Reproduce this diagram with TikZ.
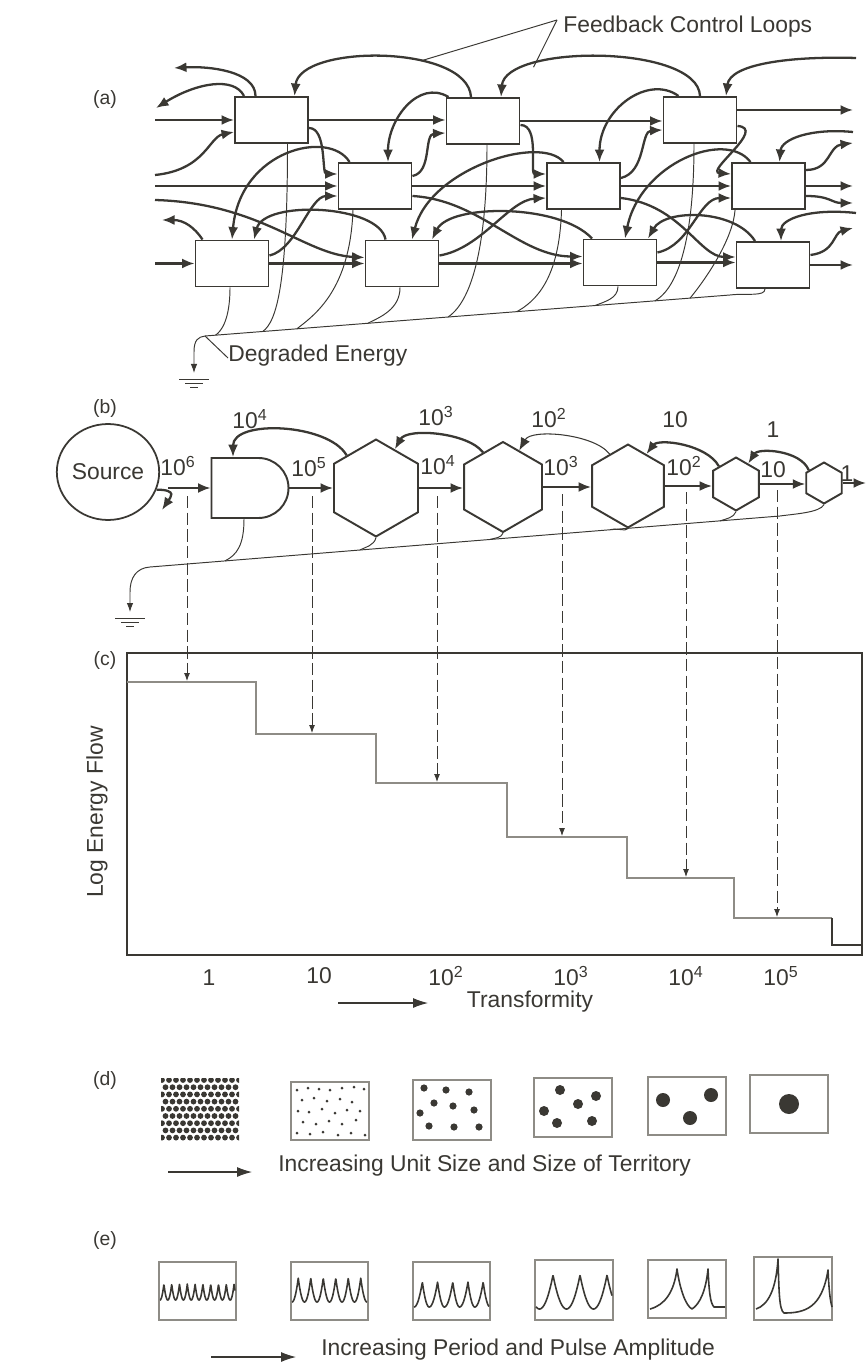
\documentclass[tikz,border=0pt]{standalone}
\usepackage{fontspec}
\setmainfont{Liberation Sans}
\usetikzlibrary{arrows.meta,calc,shapes.geometric,shapes.misc}
\definecolor{ink}{HTML}{3A3833}
\definecolor{faint}{HTML}{8E8C86}
\newcommand{\tpow}[1]{10\textsuperscript{#1}}
% pulse train: x0, x1, base, amplitude, period, offset, rise fraction, rise power
\newcommand{\spikes}[8]{%
  \draw[pulseline] plot[domain=#1:#2,samples=240]
    (\x,{#3-#4*ifthenelse(mod(\x-#1+#6,#5)<#5*#7,
      (mod(\x-#1+#6,#5)/(#5*#7))^#8,
      ((#5-mod(\x-#1+#6,#5))/(#5-#5*#7))^2)});}
\tikzset{
  unitbox/.style={draw=ink,line width=1.1pt,minimum width=1.46cm,minimum height=0.92cm,inner sep=0pt},
  hexunit/.style={draw=ink,line width=1.1pt,regular polygon,regular polygon sides=6,
    shape border rotate=30,inner sep=0pt},
  flow/.style={ink,line width=1.3pt,-{Latex[length=2.5mm,width=2mm]}},
  loss/.style={ink,line width=0.55pt},
  sinkarrow/.style={loss,-{Latex[length=1.8mm,width=1.3mm]}},
  dropline/.style={ink,line width=0.5pt,dash pattern=on 7pt off 2.5pt,-{Latex[length=1.6mm,width=1.2mm]}},
  hint/.style={ink,line width=0.6pt,-{Latex[length=3mm,width=2mm]}},
  plotframe/.style={draw=ink,line width=1pt},
  stepline/.style={faint,line width=0.6pt},
  cell/.style={draw=faint,line width=0.6pt},
  pulseline/.style={ink,line width=0.9pt,line join=round},
  lbl/.style={text=ink,inner sep=0pt},
  parttag/.style={text=ink,font=\fontsize{11}{13}\selectfont},
  earth/.pic={\draw[loss] (-15,0) -- (15,0) (-9,4) -- (9,4) (-4,8) -- (4,8);}
}

\begin{document}
\begin{tikzpicture}[x=0.02cm,y=-0.02cm,font=\fontsize{13}{15}\selectfont]

  \fill[white] (0,0) rectangle (867,1364);
  \useasboundingbox (0,0) rectangle (867,1364);

  % --- part tags ---
  \node[parttag] (pa) at (105,100) {(a)};
  \node[parttag] (pb) at (105,408) {(b)};
  \node[parttag] (pc) at (105,660) {(c)};
  \node[parttag] (pd) at (105,1080) {(d)};
  \node[parttag] (pe) at (105,1240) {(e)};

  % ================= (a) network =================
  \node[unitbox] (a1) at (271.5,120) {};
  \node[unitbox] (a2) at (483,121) {};
  \node[unitbox] (a3) at (700,120) {};
  \node[unitbox] (b1) at (375,186) {};
  \node[unitbox] (b2) at (583.5,186) {};
  \node[unitbox] (b3) at (768.5,186) {};
  \node[unitbox] (c1) at (232,263.5) {};
  \node[unitbox] (c2) at (402,263.5) {};
  \node[unitbox] (c3) at (620,262.5) {};
  \node[unitbox] (c4) at (773,265) {};

  \coordinate (ina)   at (155,120);
  \coordinate (ina2)  at (155,175);
  \coordinate (outa1) at (174,68);
  \coordinate (outa2) at (156,108);
  \coordinate (ina3)  at (856,58);
  \coordinate (outa)  at (853,110);
  \coordinate (inb)   at (155,186);
  \coordinate (inb2)  at (155,200);
  \coordinate (inb3)  at (853,132);
  \coordinate (outb1) at (853,143);
  \coordinate (outb)  at (853,186);
  \coordinate (outb3) at (853,203);
  \coordinate (inc)   at (155,263.5);
  \coordinate (outc1) at (162,220);
  \coordinate (inc4)  at (856,213);
  \coordinate (outc2) at (853,228);
  \coordinate (outc)  at (853,265);

  % --- straight flows ---
  \draw[flow] (ina) -- (a1.west);
  \draw[flow] (a1.east) -- (a1.east -| a2.west);
  \draw[flow] (a2.east) -- (a2.east -| a3.west);
  \draw[flow] ($(a3.east)+(0,-10)$) -- (outa);
  \draw[flow] (inb) -- (b1.west);
  \draw[flow] (b1.east) -- (b2.west);
  \draw[flow] (b2.east) -- (b3.west);
  \draw[flow] (b3.east) -- (outb);
  \draw[flow] (inc) -- (c1.west);
  \draw[flow] (c1.east) -- (c2.west);
  \draw[flow] (c2.east) -- (c2.east -| c3.west);
  \draw[flow] (c3.east) -- (c3.east -| c4.west);
  \draw[flow] (c4.east) -- (outc);

  % --- top row curves ---
  \draw[flow] (ina2) .. controls +(50,-5) and +(-25,5) .. ($(a1.west)+(0,12)$);
  \draw[flow] ($(a1.north)+(-16,0)$) .. controls +(0,-25) and +(35,-2) .. (outa1);
  \draw[flow] ($(a1.north west)+(10,0)$) .. controls +(-10,-20) and +(40,-25) .. (outa2);
  \draw[flow] ($(a1.east)+(0,8)$) .. controls +(18,0) and +(-16,0) .. ($(b1.west)+(0,-12)$);
  \draw[flow] ($(a2.north)+(-12,0)$) .. controls +(-3,-53) and +(5,-52) .. ($(a1.north)+(23,0)$)
    coordinate[pos=0.35] (fb1);
  \draw[flow] (a3.north) .. controls +(-2,-52) and +(4,-53) .. ($(a2.north)+(18,0)$)
    coordinate[pos=0.75] (fb2);
  \draw[flow] (ina3) .. controls +(-66,-2) and +(4,-32) .. ($(a3.north)+(26,0)$);
  \draw[flow] ($(a2.north west)+(3,0)$) .. controls +(-30,-18) and +(0,-43) .. ($(b1.north)+(13,0)$);
  \draw[flow] ($(b1.east)+(0,-10)$) .. controls +(20,-4) and +(-22,1) .. ($(a2.west)+(0,12)$);
  \draw[flow] ($(a2.east)+(0,4)$) .. controls +(20,0) and +(-17,0) .. ($(b2.west)+(0,-12)$);
  \draw[flow] ($(a3.north west)+(16,0)$) .. controls +(-30,-22) and +(0,-53) .. ($(b2.north)+(16,0)$);
  \draw[flow] ($(b2.east)+(0,-8)$) .. controls +(25,-6) and +(-22,1) .. ($(a3.west)+(0,10)$);
  \draw[flow] ($(a3.east)+(0,6)$) .. controls +(30,2) and +(-27,-2) .. ($(b3.west)+(0,-12)$);
  \draw[flow] (inb3) .. controls +(-42,-4) and +(2,-23) .. ($(b3.north)+(11,0)$);
  \draw[flow] ($(b3.east)+(0,-16)$) .. controls +(25,0) and +(-25,3) .. (outb1);
  \draw[flow] ($(b3.east)+(0,10)$) .. controls +(25,0) and +(-22,0) .. (outb3);

  % --- middle and bottom row curves ---
  \draw[flow] (inb2) .. controls +(105,3) and +(-60,-3) .. ($(c2.west)+(0,-6)$);
  \draw[flow] ($(c1.east)+(0,-8)$) .. controls +(27,-6) and +(-28,0) .. ($(b1.west)+(0,10)$);
  \draw[flow] ($(b1.north west)+(12,0)$) .. controls +(-20,-33) and +(8,-90) .. (c1.north);
  \draw[flow] ($(c2.north west)+(21,0)$) .. controls +(-6,-35) and +(10,-40) .. ($(c1.north)+(22,0)$);
  \draw[flow] ($(b1.east)+(0,10)$) .. controls +(68,4) and +(-63,0) .. ($(c3.west)+(0,-6)$);
  \draw[flow] ($(c2.east)+(0,-8)$) .. controls +(42,-7) and +(-37,2) .. ($(b2.west)+(0,12)$);
  \draw[flow] ($(b2.north)+(-20,0)$) .. controls +(-23,-28) and +(18,-71) .. ($(c2.north)+(10,0)$);
  \draw[flow] ($(c3.north)+(-28,0)$) .. controls +(-32,-35) and +(18,-36) .. ($(c2.north)+(30,0)$);
  \draw[flow] ($(b2.east)+(0,12)$) .. controls +(60,7) and +(-36,0) .. ($(c4.west)+(0,-8)$);
  \draw[flow] ($(c3.east)+(0,-10)$) .. controls +(33,-7) and +(-32,0) .. ($(b3.west)+(0,12)$);
  \draw[flow] ($(b3.north)+(-18,0)$) .. controls +(-25,-33) and +(15,-75) .. ($(c3.north)+(5,0)$);
  \draw[flow] ($(c4.north)+(-18,0)$) .. controls +(-20,-32) and +(17,-30) .. ($(c3.north)+(28,0)$);
  \draw[flow] ($(c1.north west)+(8,0)$) .. controls +(-8,-12) and +(22,0) .. (outc1);
  \draw[flow] ($(c4.east)+(0,-10)$) .. controls +(25,-3) and +(-20,5) .. (outc2);
  \draw[flow] (inc4) .. controls +(-46,-5) and +(0,-22) .. ($(c4.north)+(8,0)$);

  % --- degraded energy ---
  \coordinate (dgE)  at (730,295);
  \coordinate (dgW)  at (205,336);
  \coordinate (dgK)  at (194,352);
  \coordinate (gnda) at (194,373);
  \draw[sinkarrow] ($(c4.south)+(-8,0)$) .. controls +(0,8) and +(16,-2) .. (dgE) -- (dgW)
    .. controls +(-7,1) and +(0,-12) .. (dgK) -- (gnda);
  \pic at (194,379) {earth};
  \draw[loss] ($(c1.south)+(-2,0)$) .. controls +(0,32) and +(6,-4) .. ($(dgW)!0.02!(dgE)$);
  \draw[loss] ($(a1.south)+(16,0)$) .. controls +(0,140) and +(14,-10) .. ($(dgW)!0.11!(dgE)$);
  \draw[loss] ($(b1.south)+(-22,0)$) .. controls +(-3,80) and +(18,-14) .. ($(dgW)!0.175!(dgE)$);
  \draw[loss] ($(c2.south)+(-2,0)$) .. controls +(0,22) and +(12,-6) .. ($(dgW)!0.31!(dgE)$);
  \draw[loss] ($(a2.south)+(4,0)$) .. controls +(0,120) and +(18,-12) .. ($(dgW)!0.463!(dgE)$);
  \draw[loss] ($(b2.south)+(-22,0)$) .. controls +(-2,70) and +(18,-10) .. ($(dgW)!0.594!(dgE)$);
  \draw[loss] ($(c3.south)+(-2,0)$) .. controls +(0,12) and +(10,-4) .. ($(dgW)!0.743!(dgE)$);
  \draw[loss] ($(a3.south)+(-6,0)$) .. controls +(0,110) and +(18,-10) .. ($(dgW)!0.857!(dgE)$);
  \draw[loss] ($(b3.south west)+(4,0)$) .. controls +(-2,28) and +(18,-22) .. ($(dgW)!0.924!(dgE)$);

  % --- (a) labels ---
  \node[lbl,anchor=west] (fcl) at (563,27) {Feedback Control Loops};
  \draw[loss] ($(fcl.west)+(-6,-7)$) -- (fb1);
  \draw[loss] ($(fcl.west)+(-6,-7)$) -- (fb2);
  \node[lbl,anchor=west] (dgl) at (228,356) {Degraded Energy};
  \draw[loss] (dgW) -- ($(dgl.west)+(0,2)$);

  % ================= (b) chain =================
  \node[lbl,draw=ink,line width=1pt,ellipse,minimum width=1.76cm,minimum height=1.92cm]
    (src) at (108,472) {Source};
  \node[draw=ink,line width=1.1pt,rounded rectangle,rounded rectangle west arc=none,
    minimum width=1.54cm,minimum height=1.2cm,inner sep=0pt] (tank) at (250,488) {};
  \node[hexunit,minimum size=1.94cm] (h1) at (376,488) {};
  \node[hexunit,minimum size=1.80cm] (h2) at (503,487) {};
  \node[hexunit,minimum size=1.66cm] (h3) at (628,486) {};
  \node[hexunit,minimum size=1.06cm] (h4) at (736,484) {};
  \node[hexunit,minimum size=0.82cm] (h5) at (824,483) {};

  \coordinate (s6)   at (168,488);
  \coordinate (curl) at (162,510);
  \coordinate (outr) at (866,483);

  \draw[flow] (src.-20) .. controls +(22,0) and +(8,-12) .. (curl);
  \draw[flow] (s6) -- (tank.west);
  \draw[flow] (tank.east) -- (tank.east -| h1.180);
  \draw[flow] (h1.0) -- (h1.0 -| h2.180);
  \draw[flow] (h2.0) -- (h2.0 -| h3.180);
  \draw[flow] (h3.0) -- (h3.0 -| h4.180);
  \draw[flow] (h4.0) -- (h4.0 -| h5.180);
  \draw[flow] (h5.0) -- (outr);

  % --- feedbacks ---
  \draw[flow] (h1.132) .. controls +(-18,-32) and +(0,-38) .. ($(tank.north)+(-17,0)$);
  \draw[flow] (h2.120) .. controls +(-15,-20) and +(12,-22) .. (h1.64);
  \draw[flow,line width=0.6pt] (h3.120) .. controls +(-15,-20) and +(12,-22) .. (h2.66);
  \draw[flow] (h4.134) .. controls +(-12,-22) and +(12,-16) .. (h3.60);
  \draw[flow] (h5.140) .. controls +(-8,-20) and +(10,-16) .. (h4.59);

  % --- flow values ---
  \node[lbl] (q6)  at (178,466) {\tpow{6}};
  \node[lbl] (r4)  at (250,419) {\tpow{4}};
  \node[lbl] (q5)  at (309,467) {\tpow{5}};
  \node[lbl] (r3)  at (436,416) {\tpow{3}};
  \node[lbl] (q4)  at (438,465) {\tpow{4}};
  \node[lbl] (r2)  at (549,418) {\tpow{2}};
  \node[lbl] (q3)  at (561,466) {\tpow{3}};
  \node[lbl] (r1)  at (675,420) {10};
  \node[lbl] (q2)  at (684,466) {\tpow{2}};
  \node[lbl] (r0)  at (773,430) {1};
  \node[lbl] (q1)  at (773,470) {10};
  \node[lbl] (q0)  at (847,474) {1};

  % --- (b) degraded energy ---
  \coordinate (cE)   at (780,516);
  \coordinate (cW)   at (150,567);
  \coordinate (cK)   at (130,592);
  \coordinate (gndb) at (130,612);
  \draw[sinkarrow] (h5.south) .. controls +(-4,8) and +(14,-2) .. (cE) -- (cW)
    .. controls +(-14,1) and +(0,-14) .. (cK) -- (gndb);
  \pic at (130,618) {earth};
  \draw[loss] ($(tank.south)+(-6,0)$) .. controls +(0,26) and +(12,-6) .. ($(cW)!0.119!(cE)$);
  \draw[loss] (h1.south) .. controls +(-2,8) and +(6,-3) .. ($(cW)!0.333!(cE)$);
  \draw[loss] (h2.south) .. controls +(-2,5) and +(6,-2) .. ($(cW)!0.54!(cE)$);
  \draw[loss] (h3.south) .. controls +(-2,3) and +(6,-2) .. ($(cW)!0.73!(cE)$);
  \draw[loss] (h4.south) .. controls +(-2,6) and +(6,-2) .. ($(cW)!0.905!(cE)$);

  % ================= (c) step plot =================
  \draw[plotframe] (127,653) rectangle (862,955);
  \draw[stepline] (127,682) -- (256,682) -- (256,734) -- (376,734) -- (376,783) -- (507,783)
    -- (507,837) -- (627,837) -- (627,878) -- (734,878) -- (734,918) -- (832,918);
  \draw[ink,line width=0.8pt] (832,918) -- (832,945) -- (862,945);

  \coordinate (v1) at (187,496);  \coordinate (l1) at (187,681);
  \coordinate (v2) at (312,496);  \coordinate (l2) at (312,733);
  \coordinate (v3) at (437,496);  \coordinate (l3) at (437,782);
  \coordinate (v4) at (562,494);  \coordinate (l4) at (562,836);
  \coordinate (v5) at (686,492);  \coordinate (l5) at (686,877);
  \coordinate (v6) at (777,490);  \coordinate (l6) at (777,917);
  \draw[dropline] (v1) -- (l1);
  \draw[dropline] (v2) -- (l2);
  \draw[dropline] (v3) -- (l3);
  \draw[dropline] (v4) -- (l4);
  \draw[dropline] (v5) -- (l5);
  \draw[dropline] (v6) -- (l6);

  \node[lbl] (t0) at (209,978) {1};
  \node[lbl] (t1) at (319,976) {10};
  \node[lbl] (t2) at (446,976) {\tpow{2}};
  \node[lbl] (t3) at (571,976) {\tpow{3}};
  \node[lbl] (t4) at (686,976) {\tpow{4}};
  \node[lbl] (t5) at (781,976) {\tpow{5}};
  \node[lbl,rotate=90] (ylab) at (97,812) {Log Energy Flow};
  \node[lbl] (xlab) at (530,1002) {Transformity};
  \coordinate (xa0) at (338,1003);
  \coordinate (xa1) at (428,1003);
  \draw[hint] (xa0) -- (xa1);

  % ================= (d) territories =================
  \begin{scope}
    \clip (161,1078) rectangle (239,1140);
    \foreach \j in {0,...,8}
      \foreach \i in {0,...,11}
        \fill[ink] ({162+7*\i+3.5*mod(\j,2)},{1080+7.2*\j}) circle[radius=2.9];
  \end{scope}
  \draw[cell] (291,1082) rectangle (369,1140);
  \draw[cell] (413,1080) rectangle (491,1140);
  \draw[cell] (534,1078) rectangle (612,1137);
  \draw[cell] (648,1077) rectangle (726,1135);
  \draw[cell] (750,1075) rectangle (828,1133);
  \foreach \x/\y in {297/1090,308/1088,319/1089,330/1090,342/1088,354/1087,364/1089,
      302/1100,314/1098,327/1101,340/1099,352/1102,
      298/1111,309/1112,322/1109,335/1113,347/1110,360/1111,
      303/1122,316/1124,329/1121,342/1124,356/1120,
      297/1133,310/1134,323/1132,338/1135,351/1133,365/1135}
    \fill[ink] (\x,\y) circle[radius=1.5];
  \foreach \x/\y in {424/1088,446/1090,469/1092,434/1103,453/1106,420/1113,474/1110,
      429/1126,454/1127,479/1127}
    \fill[ink] (\x,\y) circle[radius=3.6];
  \foreach \x/\y in {560/1090,596/1096,578/1104,544/1111,557/1123,592/1121}
    \fill[ink] (\x,\y) circle[radius=5];
  \foreach \x/\y in {663/1100,711/1095,690/1118}
    \fill[ink] (\x,\y) circle[radius=7];
  \fill[ink] (789,1104) circle[radius=10];

  \coordinate (da0) at (168,1172);
  \coordinate (da1) at (252,1172);
  \draw[hint] (da0) -- (da1);
  \node[lbl,anchor=west] (dtxt) at (278,1166) {Increasing Unit Size and Size of Territory};

  % ================= (e) pulses =================
  \draw[cell] (159,1262) rectangle (236,1320);
  \draw[cell] (291,1262) rectangle (368,1320);
  \draw[cell] (413,1262) rectangle (490,1320);
  \draw[cell] (535,1260) rectangle (613,1320);
  \draw[cell] (648,1260) rectangle (726,1318);
  \draw[cell] (754,1257) rectangle (832,1320);
  \spikes{160}{235}{1300}{16}{7.8}{0}{0.5}{2}
  \spikes{292}{367}{1302}{24}{12.5}{0}{0.5}{2}
  \spikes{414}{489}{1307}{25}{15.2}{0}{0.55}{2}
  \spikes{536}{612}{1309}{34}{27}{23.5}{0.5}{2}
  \draw[pulseline] (650,1309) .. controls (665,1305) and (674,1292) .. (677,1269)
    .. controls (680,1290) and (686,1306) .. (692,1309)
    .. controls (700,1304) and (706,1290) .. (708,1269)
    .. controls (709,1290) and (710,1303) .. (714,1307) -- (725,1307);
  \draw[pulseline] (756,1309) .. controls (768,1305) and (776,1290) .. (778,1259)
    .. controls (779,1290) and (779,1310) .. (784,1313)
    .. controls (805,1313) and (822,1308) .. (828,1270)
    .. controls (829,1290) and (830,1300) .. (832,1307);

  \coordinate (ea0) at (211,1357);
  \coordinate (ea1) at (296,1357);
  \draw[hint] (ea0) -- (ea1);
  \node[lbl,anchor=west] (etxt) at (321,1350) {Increasing Period and Pulse Amplitude};

\end{tikzpicture}
\end{document}
